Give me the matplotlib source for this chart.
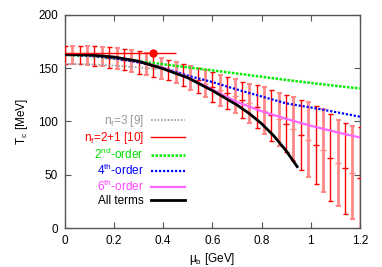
import numpy as np
import matplotlib
matplotlib.use('Agg')
import matplotlib.pyplot as plt
from matplotlib.lines import Line2D

plt.rcParams['font.family'] = ['Liberation Sans', 'DejaVu Sans']
plt.rcParams['mathtext.fontset'] = 'custom'
plt.rcParams['mathtext.rm'] = 'Liberation Sans'
plt.rcParams['mathtext.it'] = 'Liberation Sans:italic'

# expansion curves
mu_curve = [0.0, 0.1, 0.2, 0.3, 0.4, 0.5, 0.6, 0.7, 0.8, 0.9, 1.0, 1.1, 1.2]
T_2nd = [162.5, 161.5, 159.2, 156.5, 153.7, 150.8, 148.0, 145.0, 142.0, 139.0, 136.2, 133.5, 131.0]
T_4th = [162.5, 161.8, 159.3, 155.5, 150.5, 143.0, 137.0, 130.0, 123.5, 117.0, 113.2, 108.9, 104.5]
T_6th = [163.0, 162.4, 160.3, 156.5, 150.5, 141.5, 130.0, 118.3, 109.6, 102.5, 96.0, 90.3, 85.0]

mu_all = [0.0, 0.1, 0.2, 0.3, 0.4, 0.5, 0.6, 0.7, 0.75, 0.8, 0.85, 0.9, 0.945]
T_all = [163.0, 162.5, 160.5, 156.5, 149.5, 141.0, 129.0, 115.5, 107.5, 98.0, 86.5, 72.5, 57.6]

# nf=3 line
mu_nf3 = [0.0, 0.1, 0.2, 0.3, 0.38]
T_nf3 = [154.0, 153.7, 152.5, 150.8, 149.0]

# critical end point
mu_cep = [0.36]
T_cep = [164.0]
mu_cep_err = [[0.36], [0.09]]

# error bar series
mu_red = [0.0, 0.06, 0.12, 0.18, 0.24, 0.30, 0.36, 0.42, 0.48, 0.54, 0.60,
          0.66, 0.72, 0.78, 0.84, 0.90, 0.96, 1.02, 1.08, 1.14, 1.20]
T_red = [162.5, 162.3, 161.5, 160, 158, 155.5, 152, 148, 143.5, 138.5, 132.5,
         126.5, 120.5, 114, 106, 98, 87, 78, 66, 56, 47]
err_red = [8.5, 8.5, 9, 9.5, 10, 10.5, 10.5, 9.5, 10, 11.5, 14,
           15, 17, 20, 24, 27, 33, 37, 41, 43, 48]

mu_pale = [0.03, 0.09, 0.15, 0.21, 0.27, 0.33, 0.39, 0.45, 0.51, 0.57,
           0.63, 0.69, 0.75, 0.81, 0.87, 0.93, 0.99, 1.05, 1.11, 1.17]
T_pale = [162.5, 162, 161, 159, 157, 154, 150, 146, 141, 135.5,
          129.5, 123.5, 117, 110, 102, 93, 83, 73, 61, 52]
err_pale = [8.5, 9, 9, 10, 10.5, 10.5, 10, 9.5, 11, 12.5,
            14.5, 16, 18.5, 22, 25, 30, 35, 39, 40, 44]

fig = plt.figure(figsize=(3.82, 2.67), dpi=100)
ax = fig.add_axes([0.170, 0.146, 0.772, 0.798])

ax.errorbar(mu_pale, T_pale, yerr=err_pale, fmt='_', color='#ff8888', ms=4,
            elinewidth=2.0, capsize=1.8, capthick=1.5, zorder=2)
ax.errorbar(mu_red, T_red, yerr=err_red, fmt='_', color='#ff0000', ms=4,
            elinewidth=1.0, capsize=1.8, capthick=1.0, zorder=3)

l_nf3, = ax.plot(mu_nf3, T_nf3, color='#999999', ls=(0, (1, 1)), lw=1.2, zorder=4)
l_2, = ax.plot(mu_curve, T_2nd, color='#00ee00', ls=(0, (1, 0.6)), lw=1.8, zorder=4)
l_4, = ax.plot(mu_curve, T_4th, color='#0000ff', ls=(0, (1, 0.8)), lw=1.6, zorder=4)
l_6, = ax.plot(mu_curve, T_6th, color='#ff66ff', ls='-', lw=1.6, zorder=4)
l_all, = ax.plot(mu_all, T_all, color='black', lw=2.0, zorder=5)

ax.errorbar(mu_cep, T_cep, xerr=mu_cep_err, fmt='o', color='#ff0000', ms=5,
            elinewidth=1.0, capsize=0, zorder=6)
l_nf21 = Line2D([], [], color='#ff0000', lw=1.0)

ax.set_xlim(0, 1.2)
ax.set_ylim(0, 200)
ax.set_xticks([0, 0.2, 0.4, 0.6, 0.8, 1.0, 1.2])
ax.set_xticklabels(['0', '0.2', '0.4', '0.6', '0.8', '1', '1.2'])
ax.set_yticks([0, 50, 100, 150, 200])
ax.tick_params(direction='in', top=True, right=True, length=4, width=0.8,
               color='#555555', labelsize=8.5, pad=5)
for s in ax.spines.values():
    s.set_color('#555555')
    s.set_linewidth(1.0)

ax.set_xlabel('μ$_{\\mathrm{b}}$ [GeV]', fontsize=8.5, labelpad=3)
ax.set_ylabel('T$_{\\mathrm{c}}$ [MeV]', fontsize=8.5, labelpad=6)

handles = [l_nf3, l_nf21, l_2, l_4, l_6, l_all]
labels = ['n$_{\\mathrm{f}}$=3 [9]', 'n$_{\\mathrm{f}}$=2+1 [10]',
          '2$^{\\mathrm{nd}}$-order', '4$^{\\mathrm{th}}$-order',
          '6$^{\\mathrm{th}}$-order', 'All terms']
leg = ax.legend(handles, labels, loc='center right', bbox_to_anchor=(0.407, 0.319),
                frameon=False, markerfirst=False, fontsize=8.5, handlelength=2.9,
                handletextpad=0.6, labelspacing=0.08, borderpad=0, borderaxespad=0,
                labelcolor=['#999999', '#ff0000', '#00dd00', '#0000ff', '#ff44ff', 'black'])

fig.savefig('out.png', dpi=100)
